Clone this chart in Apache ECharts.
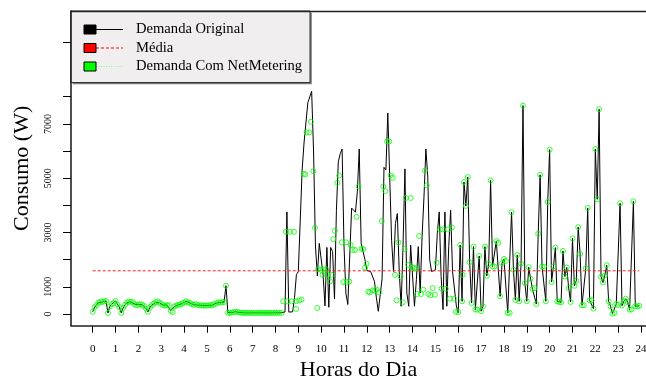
<!DOCTYPE html>
<html>
<head>
<meta charset="utf-8">
<script src="https://cdn.jsdelivr.net/npm/echarts@6/dist/echarts.min.js"></script>
<style>
  html, body { margin: 0; padding: 0; background: #ffffff; }
  #chart { width: 646px; height: 378px; }
</style>
</head>
<body>
<div id="chart"></div>
<script>
// Hour ticks on the time axis
const hourTicks = [0,1,2,3,4,5,6,7,8,9,10,11,12,13,14,15,16,17,18,19,20,21,22,23,24];
// Consumption axis ticks and the labels that are printed
const consumoTicks = [0,1000,2000,3000,4000,5000,6000,7000,8000,10000];
const consumoLabels = [0,1000,3000,5000,7000];

// Sampling step of the demand series, in hours (5 minutes)
const passoHoras = 1 / 12;

// Original demand (W), one value every 5 minutes from 00:00
const demandaOriginal = [
  80, 250, 330, 420, 450, 440, 460, 480, 40, 280,
  360, 400, 480, 350, 250, 40, 220, 340, 420, 460,
  450, 440, 360, 320, 350, 360, 340, 290, 200, 80,
  240, 320, 380, 430, 470, 420, 370, 330, 310, 330,
  320, 120, 70, 280, 320, 340, 350, 380, 420, 470,
  430, 410, 360, 340, 370, 330, 320, 320, 310, 310,
  310, 320, 330, 330, 360, 400, 430, 420, 440, 440,
  1040, 45, 40, 50, 70, 85, 70, 55, 45, 40,
  40, 40, 45, 40, 40, 40, 40, 40, 40, 40,
  40, 40, 40, 40, 40, 40, 40, 45, 45, 45,
  50, 70, 3760, 70, 75, 80, 600, 1450, 1560, 1620,
  5300, 6300, 6350, 7780, 7850, 8200, 6000, 2500, 1400, 2600,
  2600, 1450, 300, 2450, 250, 2450, 2300, 550, 3800, 5600,
  5900, 6075, 2500, 750, 350, 400, 3900, 3850, 3750, 4500,
  6075, 2600, 2600, 2000, 1600, 1560, 1560, 1520, 1200, 600,
  100, 150, 1300, 5400, 5300, 7400, 7400, 2700, 1565, 3330,
  3700, 1565, 285, 2540, 5343, 772, 285, 2540, 2540, 285,
  1260, 2480, 772, 2845, 4307, 6075, 5039, 1991, 1565, 1565,
  1626, 2967, 3759, 1382, 163, 3759, 285, 2480, 3820, 1565,
  1500, 300, 41, 2540, 468, 4856, 3978, 5039, 1906, 407,
  2480, 163, 163, 2138, 102, 285, 2480, 1406, 1845, 4917,
  1748, 1748, 2686, 2625, 650, 1870, 2028, 1955, 41, 41,
  3747, 1626, 517, 2174, 468, 1857, 7672, 1138, 468, 1723,
  1297, 919, 955, 370, 2954, 5124, 1748, 1748, 468, 4125,
  6051, 1175, 1748, 2442, 468, 443, 431, 2320, 1382, 1711,
  955, 443, 2784, 1040, 1223, 3198, 2211, 321, 321, 1687,
  3905, 504, 504, 199, 6075, 4222, 7538, 1370, 1162, 1418,
  1796, 468, 285, 17, 41, 370, 334, 4076, 309, 468,
  565, 431, 163, 163, 4149, 285, 285, 300
];

// Average of the original demand (W)
const mediaDemanda = 1590;

// Demand with net metering (W): night samples, 5-minute grid from 00:00
const netMeteringNoite = [
  80, 250, 330, 420, 450, 440, 460, 480, 40, 280,
  360, 400, 480, 350, 250, 40, 220, 340, 420, 460,
  450, 440, 360, 320, 350, 360, 340, 290, 200, 80,
  240, 320, 380, 430, 470, 420, 370, 330, 310, 330,
  320, 120, 70, 280, 320, 340, 350, 380, 420, 470,
  430, 410, 360, 340, 370, 330, 320, 320, 310, 310,
  310, 320, 330, 330, 360, 400, 430, 420, 440, 440,
  1040, 45, 40, 50, 70, 85, 70, 55, 45, 40,
  40, 40, 45, 40, 40, 40, 40, 40, 40, 40,
  40, 40, 40, 40, 40, 40, 40, 45, 45
];
const netMeteringNoiteInicio = 0;

// Daylight readings with net metering: time (h) and demand (W)
const netMeteringDiaHoras = [
  8.27, 8.34, 8.46, 8.52, 8.63, 8.71, 8.81, 8.90, 8.90, 9.04,
  9.14, 9.25, 9.31, 9.36, 9.48, 9.55, 9.66, 9.73, 9.83, 9.87,
  9.98, 10.06, 10.12, 10.21, 10.28, 10.39, 10.46, 10.53, 10.60, 10.71,
  10.79, 10.90, 10.97, 11.09, 11.11, 11.23, 11.29, 11.38, 11.48, 11.55,
  11.64, 11.77, 11.84, 11.92, 11.99, 12.06, 12.13, 12.25, 12.35, 12.43,
  12.54, 12.65, 12.72, 12.81, 12.89, 12.98, 13.04, 13.13, 13.23, 13.30,
  13.38, 13.48, 13.57, 13.65, 13.71, 13.81, 13.92, 13.99, 14.06, 14.15,
  14.21, 14.29, 14.37, 14.47, 14.54, 14.62, 14.69, 14.79, 14.88, 14.98,
  15.05, 15.20, 15.27, 15.32, 15.46, 15.55, 15.64, 15.72, 15.81, 15.90,
  16.00, 16.19
];
const netMeteringDiaValores = [
  41, 468, 3027, 468, 3027, 468, 3027, 187, 468, 504,
  528, 5161, 5136, 6685, 6685, 7075, 5258, 3174, 224, 1650,
  1626, 1443, 1626, 1650, 1443, 1199, 1443, 2759, 3064, 4832,
  5100, 2638, 1175, 2638, 1175, 1199, 2540, 2357, 2357, 3576,
  4698, 2394, 2394, 1711, 1845, 821, 797, 870, 870, 894,
  797, 3418, 4698, 4527, 6355, 6355, 5100, 5015, 1443, 504,
  2638, 1382, 431, 2394, 4271, 1809, 4271, 1711, 1687, 1687,
  736, 2869, 736, 894, 5283, 4734, 736, 687, 955, 712,
  1894, 3113, 930, 3113, 930, 3113, 565, 3186, 565, 78,
  78, 1443
];

// Evening samples with net metering, 5-minute grid starting at sample 193
const netMeteringTarde = [
  2540, 468, 4856, 3978, 5039, 1906, 407,
  2480, 163, 163, 2138, 102, 285, 2480, 1406, 1845, 4917,
  1748, 1748, 2686, 2625, 650, 1870, 2028, 1955, 41, 41,
  3747, 1626, 517, 2174, 468, 1857, 7672, 1138, 468, 1723,
  1297, 919, 955, 370, 2954, 5124, 1748, 1748, 468, 4125,
  6051, 1175, 1748, 2442, 468, 443, 431, 2320, 1382, 1711,
  955, 443, 2784, 1040, 1223, 3198, 2211, 321, 321, 1687,
  3905, 504, 504, 199, 6075, 4222, 7538, 1370, 1162, 1418,
  1796, 468, 285, 17, 41, 370, 334, 4076, 309, 468,
  565, 431, 163, 163, 4149, 285, 285, 300
];
const netMeteringTardeInicio = 193;

const serif = 'Liberation Serif, Times New Roman, serif';

const linhaOriginal = demandaOriginal.map((v, i) => [i * passoHoras, v]);
const ultimaHora = (demandaOriginal.length - 1) * passoHoras;

const pontosNet = [];
netMeteringNoite.forEach((v, i) => pontosNet.push([(netMeteringNoiteInicio + i) * passoHoras, v]));
netMeteringDiaHoras.forEach((h, i) => pontosNet.push([h, netMeteringDiaValores[i]]));
netMeteringTarde.forEach((v, i) => pontosNet.push([(netMeteringTardeInicio + i) * passoHoras, v]));

const chart = echarts.init(document.getElementById('chart'), null, { renderer: 'canvas' });

// Legend box drawn as graphics
const legX = 70.7, legY = 11, legW = 239.3, legH = 71.5;
const rows = [
  { y: 29.5, fill: '#000000', line: { stroke: '#000000', lineWidth: 1 }, text: 'Demanda Original' },
  { y: 48, fill: '#ff0000', line: { stroke: '#ff0000', lineWidth: 1, lineDash: [3, 2] }, text: 'Média' },
  { y: 66.5, fill: '#00ff00', line: { stroke: '#7dff7d', lineWidth: 1, lineDash: [1, 1.5] }, text: 'Demanda Com NetMetering' }
];
const legendElements = [
  { type: 'rect', shape: { x: legX + 1.8, y: legY + 1.8, width: legW, height: legH }, style: { fill: '#7a7a7a' } },
  { type: 'rect', shape: { x: legX, y: legY, width: legW, height: legH }, style: { fill: '#f0eeee', stroke: '#333333', lineWidth: 1 } }
];
rows.forEach(r => {
  legendElements.push({ type: 'line', shape: { x1: 96, y1: r.y, x2: 123, y2: r.y }, style: r.line });
  legendElements.push({ type: 'rect', shape: { x: 84, y: r.y - 4.5, width: 12, height: 9 }, style: { fill: r.fill, stroke: '#000000', lineWidth: 1 } });
  legendElements.push({ type: 'text', x: 136, y: r.y, style: { text: r.text, fill: '#000000', font: '14.6px "Liberation Serif", serif', textVerticalAlign: 'middle', textAlign: 'left' } });
});

const eixoX = {
  type: 'value',
  min: -0.95, max: 24.218,
  splitLine: { show: false }
};

chart.setOption({
  animation: false,
  backgroundColor: '#ffffff',
  grid: { left: 71, top: 11, right: 0, height: 314.7, outerBoundsMode: 'none', containLabel: false },
  xAxis: [
    Object.assign({}, eixoX, {
      position: 'bottom',
      name: 'Horas do Dia',
      nameLocation: 'middle',
      nameGap: 30,
      nameTextStyle: { fontFamily: serif, fontSize: 22, color: '#000000' },
      axisLine: { show: true, onZero: false, lineStyle: { color: '#222222', width: 1.6 } },
      axisTick: { show: true, customValues: hourTicks, length: 7, lineStyle: { color: '#000000', width: 1 } },
      axisLabel: { customValues: hourTicks, fontFamily: serif, fontSize: 11, color: '#000000', margin: 18 }
    }),
    Object.assign({}, eixoX, {
      position: 'top',
      axisLine: { show: true, onZero: false, lineStyle: { color: '#222222', width: 1.3 } },
      axisTick: { show: false },
      axisLabel: { show: false }
    })
  ],
  yAxis: {
    type: 'value',
    min: -431, max: 11156,
    name: 'Consumo (W)',
    nameLocation: 'middle',
    nameGap: 38,
    nameTextStyle: { fontFamily: serif, fontSize: 22, color: '#000000' },
    axisLine: { show: true, onZero: false, lineStyle: { color: '#222222', width: 1.6 } },
    axisTick: { show: true, customValues: consumoTicks, length: 8, lineStyle: { color: '#000000', width: 1 } },
    axisLabel: { customValues: consumoLabels, rotate: 90, fontFamily: serif, fontSize: 10, color: '#000000', margin: 18, formatter: v => String(v) },
    splitLine: { show: false }
  },
  series: [
    {
      name: 'Demanda Original',
      type: 'line',
      data: linhaOriginal,
      showSymbol: false,
      lineStyle: { color: '#000000', width: 1 },
      z: 2
    },
    {
      name: 'Média',
      type: 'line',
      data: [[0, mediaDemanda], [ultimaHora, mediaDemanda]],
      showSymbol: false,
      lineStyle: { color: '#ff2020', width: 1, type: [3, 2] },
      z: 3
    },
    {
      name: 'Demanda Com NetMetering',
      type: 'scatter',
      data: pontosNet,
      symbol: 'circle',
      symbolSize: 5,
      itemStyle: { color: 'rgba(0,0,0,0)', borderColor: '#00ff00', borderWidth: 1 },
      z: 4
    }
  ],
  graphic: { elements: [{ type: 'group', z: 100, children: legendElements }] }
});
</script>
</body>
</html>
